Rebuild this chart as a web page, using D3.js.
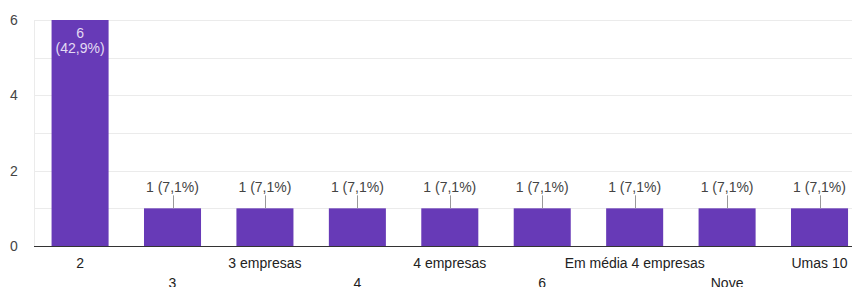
<!DOCTYPE html>
<html>
<head>
<meta charset="utf-8">
<script src="https://cdn.jsdelivr.net/npm/d3@7"></script>
<style>
  body { margin: 0; background: #fff; }
  text { font-family: Arial, "Liberation Sans", sans-serif; }
</style>
</head>
<body>
<script>
var categories = ["2", "3", "3 empresas", "4", "4 empresas", "6", "Em média 4 empresas", "Nove", "Umas 10"];
var counts = [6, 1, 1, 1, 1, 1, 1, 1, 1];
var percents = ["42,9%", "7,1%", "7,1%", "7,1%", "7,1%", "7,1%", "7,1%", "7,1%", "7,1%"];
var yTicks = [0, 2, 4, 6];

var width = 852,
    height = 287;

var plotLeft = 34, plotTop = 20, plotBottom = 246;

var svg = d3.select("body").append("svg")
    .attr("width", width)
    .attr("height", height);

var x = d3.scaleBand()
    .domain(categories)
    .range([plotLeft, plotLeft + 92.4 * categories.length])
    .paddingInner(0.383)
    .paddingOuter(0.19);

var y = d3.scaleLinear()
    .domain([0, 6])
    .range([plotBottom, plotTop]);

// gridlines, one per unit
svg.append("g")
    .selectAll("line")
    .data(d3.range(1, 7))
    .enter().append("line")
    .attr("x1", plotLeft).attr("x2", width)
    .attr("y1", function(d) { return Math.round(y(d)) + 0.5; })
    .attr("y2", function(d) { return Math.round(y(d)) + 0.5; })
    .attr("stroke", "#ebebeb");

svg.append("line")
    .attr("x1", plotLeft + 0.5).attr("x2", plotLeft + 0.5)
    .attr("y1", plotTop).attr("y2", plotBottom)
    .attr("stroke", "#ebebeb");

// y labels
svg.append("g")
    .selectAll("text")
    .data(yTicks)
    .enter().append("text")
    .attr("x", 14)
    .attr("y", function(d) { return y(d) + 5; })
    .attr("text-anchor", "middle")
    .attr("font-size", 14)
    .attr("fill", "#444")
    .text(function(d) { return d; });

// bars
svg.append("g")
    .selectAll("rect")
    .data(counts)
    .enter().append("rect")
    .attr("x", function(d, i) { return x(categories[i]); })
    .attr("width", x.bandwidth())
    .attr("y", function(d) { return y(d); })
    .attr("height", function(d) { return y(0) - y(d); })
    .attr("fill", "#673ab7");

// labels
counts.forEach(function(d, i) {
    var cx = x(categories[i]) + x.bandwidth() / 2;
    if (d >= 3) {
        svg.append("text")
            .attr("x", cx).attr("y", y(d) + 18)
            .attr("text-anchor", "middle")
            .attr("font-size", 14)
            .attr("fill", "#e3daf3")
            .text(d);
        svg.append("text")
            .attr("x", cx).attr("y", y(d) + 33)
            .attr("text-anchor", "middle")
            .attr("font-size", 14)
            .attr("fill", "#e3daf3")
            .text("(" + percents[i] + ")");
    } else {
        svg.append("line")
            .attr("x1", Math.round(cx) + 0.5).attr("x2", Math.round(cx) + 0.5)
            .attr("y1", y(d) - 13).attr("y2", y(d))
            .attr("stroke", "#999");
        svg.append("text")
            .attr("x", cx).attr("y", y(d) - 16)
            .attr("text-anchor", "middle")
            .attr("font-size", 14)
            .attr("fill", "#444")
            .text(d + " (" + percents[i] + ")");
    }
});

// baseline
svg.append("line")
    .attr("x1", plotLeft).attr("x2", width)
    .attr("y1", plotBottom + 0.5).attr("y2", plotBottom + 0.5)
    .attr("stroke", "#333");

// x labels, staggered in two rows
svg.append("g")
    .selectAll("text")
    .data(categories)
    .enter().append("text")
    .attr("x", function(d) { return x(d) + x.bandwidth() / 2; })
    .attr("y", function(d, i) { return i % 2 ? 288 : 268; })
    .attr("text-anchor", "middle")
    .attr("font-size", 14)
    .attr("fill", "#222")
    .text(function(d) { return d; });
</script>
</body>
</html>
